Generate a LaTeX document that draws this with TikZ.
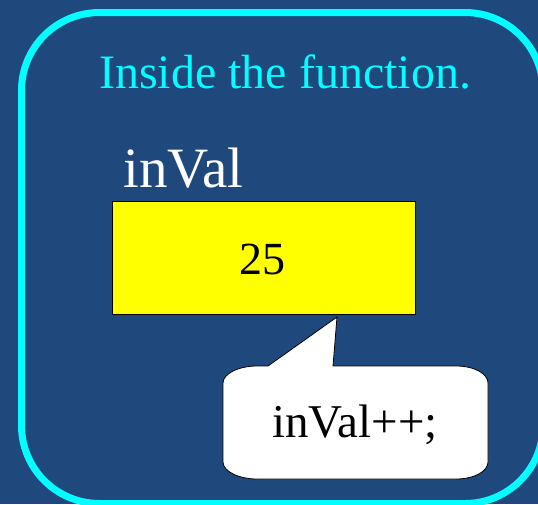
\documentclass[tikz,border=0pt]{standalone}
\usepackage{fontspec}
\setmainfont{Liberation Serif}
\definecolor{bgblue}{RGB}{31,73,125}
\definecolor{cyanline}{RGB}{0,255,255}
\definecolor{boxyellow}{RGB}{255,255,0}
\tikzset{
  txt/.style={inner sep=0pt, anchor=base},
  valbox/.style={draw=black, line width=0.8pt, fill=boxyellow},
  bubble/.style={draw=black, line width=0.8pt, fill=white},
}
\begin{document}
\begin{tikzpicture}[x=1pt,y=-1pt]
\useasboundingbox (0,0) rectangle (538,504);
\clip (0,0) rectangle (538,504);
\fill[bgblue] (0,0) rectangle (538,504);
% outer frame
\draw[cyanline, line width=7pt, rounded corners=78pt] (21.5,12.5) rectangle (543,503.5);
% title
\node[txt, text=cyanline, font=\fontsize{48}{58}\selectfont] (title) at (285,88) {Inside the function.};
% variable label
\node[txt, anchor=base west, text=white, font=\fontsize{57}{68}\selectfont] (lbl) at (123,187) {inVal};
% value box
\draw[valbox] (112,201) rectangle (415,314);
\node[txt, text=black, font=\fontsize{46}{55}\selectfont] (val) at (262.5,274) {25};
% callout bubble
\draw[bubble] (257,366) -- (268,366) -- (337,317) -- (333,366) -- (456,366)
  .. controls (474.2,366) and (488,373.6) .. (488,383)
  -- (488,462)
  .. controls (488,471.4) and (474.2,479) .. (456,479)
  -- (257,479)
  .. controls (238.8,479) and (223,471.4) .. (223,462)
  -- (223,383)
  .. controls (223,373.6) and (238.8,366) .. (257,366) -- cycle;
\node[txt, text=black, font=\fontsize{47}{56}\selectfont] (code) at (355,437) {inVal++;};
\end{tikzpicture}
\end{document}
